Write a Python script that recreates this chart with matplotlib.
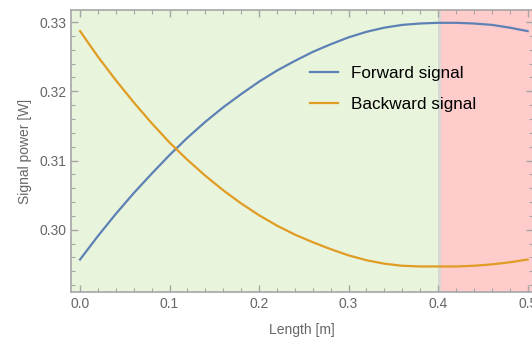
import matplotlib.pyplot as plt
from matplotlib.ticker import MultipleLocator

plt.rcParams['font.family'] = ['Liberation Sans', 'DejaVu Sans']

length = [0.00, 0.02, 0.04, 0.06, 0.08, 0.10, 0.12, 0.14, 0.16, 0.18, 0.20, 0.22, 0.24,
          0.26, 0.28, 0.30, 0.32, 0.34, 0.36, 0.38, 0.40, 0.42, 0.44, 0.46, 0.48, 0.50]
forward = [0.2957, 0.2991, 0.3023, 0.3053, 0.3081, 0.3108, 0.3133, 0.3156, 0.3177, 0.3196,
           0.3214, 0.3230, 0.3244, 0.3257, 0.3268, 0.3278, 0.3286, 0.3292, 0.3296, 0.3298,
           0.3299, 0.3299, 0.3298, 0.3296, 0.3292, 0.3287]
backward = [0.3287, 0.3250, 0.3216, 0.3184, 0.3154, 0.3126, 0.3101, 0.3078, 0.3057, 0.3038,
            0.3021, 0.3006, 0.2993, 0.2982, 0.2972, 0.2963, 0.2956, 0.2951, 0.2948, 0.2947,
            0.2947, 0.2947, 0.2948, 0.2950, 0.2953, 0.2957]

green_end = 0.3995
red_start = 0.4030

fig = plt.figure(figsize=(5.32, 3.42), dpi=100)
ax = fig.add_axes([71/532, 50/342, 462/532, 282/342])

xmin, xmax = -0.0101, 0.506
ax.set_xlim(xmin, xmax)
ax.set_ylim(0.29101, 0.33175)

ax.axvspan(xmin, green_end, color='#E8F4DC', lw=0, zorder=0)
ax.axvspan(green_end, red_start, color='#D6D8D4', lw=0, zorder=0)
ax.axvspan(red_start, xmax, color='#FFCCCC', lw=0, zorder=0)

ax.plot(length, forward, color='#5E81B5', lw=1.6, label='Forward signal', zorder=3)
ax.plot(length, backward, color='#E19C24', lw=1.6, label='Backward signal', zorder=3)

ax.xaxis.set_major_locator(MultipleLocator(0.1))
ax.xaxis.set_minor_locator(MultipleLocator(0.02))
ax.yaxis.set_major_locator(MultipleLocator(0.01))
ax.yaxis.set_minor_locator(MultipleLocator(0.002))
ax.xaxis.set_major_formatter(lambda v, p: f'{v:.1f}')
ax.yaxis.set_major_formatter(lambda v, p: f'{v:.2f}')

gray = '#A6A6A6'
for s in ax.spines.values():
    s.set_color(gray)
    s.set_linewidth(1.2)
ax.tick_params(which='both', direction='in', top=True, right=True, color=gray,
               labelcolor='#666666', labelsize=10)
ax.tick_params(which='major', length=5, width=1)
ax.tick_params(which='minor', length=3, width=0.8)

ax.set_xlabel('Length [m]', color='#666666', fontsize=10, labelpad=9)
ax.set_ylabel('Signal power [W]', color='#666666', fontsize=10, labelpad=5)

ax.legend(loc='upper left', bbox_to_anchor=(0.485, 0.855), frameon=False,
          fontsize=12.3, handlelength=1.6, handletextpad=0.8, labelspacing=0.9)

fig.savefig('out.png', dpi=100)
